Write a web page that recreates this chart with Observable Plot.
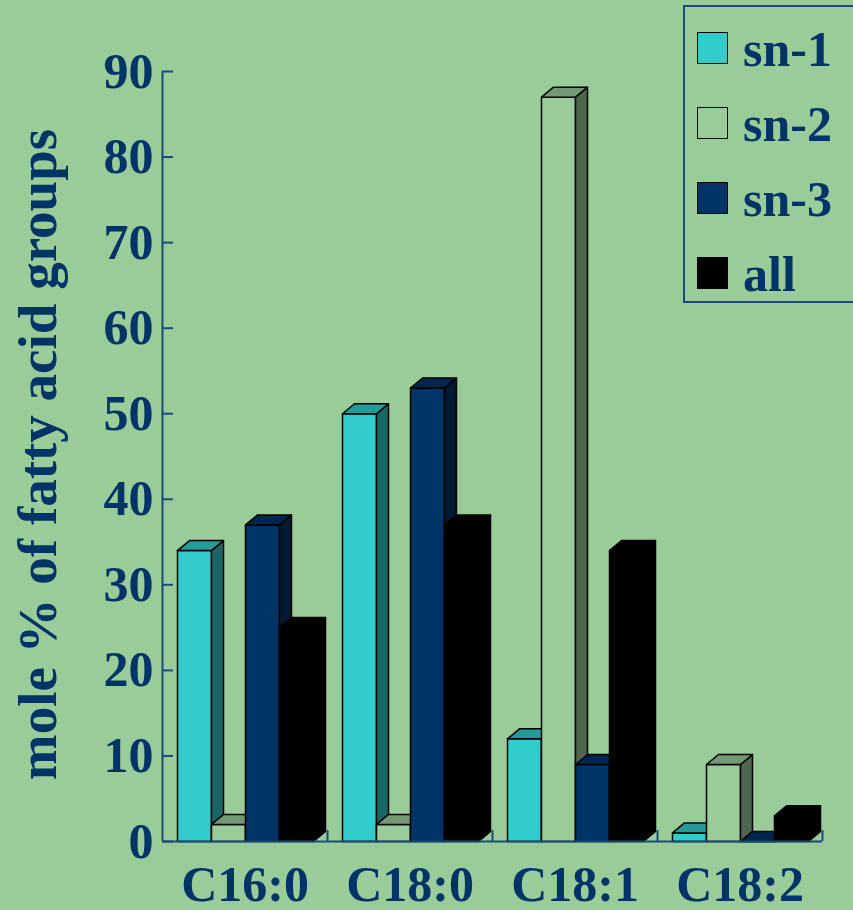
<!DOCTYPE html>
<html>
<head>
<meta charset="utf-8">
<script src="https://cdn.jsdelivr.net/npm/d3@7"></script>
<script src="https://cdn.jsdelivr.net/npm/@observablehq/plot@0.6"></script>
<style>
  html, body { margin: 0; padding: 0; background: #99cc99; overflow: hidden; }
  #wrap { position: relative; width: 853px; height: 910px; }
  #legend {
    position: absolute; left: 683px; top: 5px; width: 180px; height: 298px;
    border: 2px solid #1b4b7b; box-sizing: border-box;
    font-family: "Liberation Serif", "Times New Roman", serif; font-weight: bold;
    color: #003366; font-size: 50px;
  }
  .item { position: absolute; left: 12px; height: 60px; }
  .sw { position: absolute; left: 0; width: 29px; height: 30px; border: 1.5px solid #000; }
  .lab { position: absolute; left: 46px; top: -13px; line-height: 60px; white-space: nowrap; }
</style>
</head>
<body>
<div id="wrap"><div id="legend"></div></div>
<script>
// Fatty acid composition (mole %) by glycerol position
const groups = ["C16:0", "C18:0", "C18:1", "C18:2"];
const seriesNames = ["sn-1", "sn-2", "sn-3", "all"];
const sn1 = [34, 50, 12, 1];
const sn2 = [2, 2, 87, 9];
const sn3 = [37, 53, 9, 0];
const allPositions = [25, 37, 34, 3];
const yTicks = [0, 10, 20, 30, 40, 50, 60, 70, 80, 90];

// front / top / side shades for each series
const faceColors = [
  {front: "#33cccc", top: "#269999", side: "#1a6666"},
  {front: "#99cc99", top: "#739973", side: "#4d664d"},
  {front: "#003366", top: "#00264d", side: "#001a33"},
  {front: "#000000", top: "#000000", side: "#000000"}
];
const seriesValues = [sn1, sn2, sn3, allPositions];

const textColor = "#003366";
const axisColor = "#1b4b7b";
const width = 853, height = 910;
const margin = {top: 71, right: 31, bottom: 69, left: 162};
const plotW = width - margin.left - margin.right;
const plotH = height - margin.top - margin.bottom;
const yMax = 90;

// bar geometry in data units (x: one unit per fatty acid group)
const barW = 34 / (plotW / groups.length);
const lead = 15 / (plotW / groups.length);
const depthX = 12 / (plotW / groups.length);
const depthY = 10 / (plotH / yMax);

// each bar is a front rectangle plus a side and a top parallelogram
const vertices = [];
seriesValues.forEach((vals, s) => {
  vals.forEach((v, g) => {
    const x0 = g + lead + s * barW, x1 = x0 + barW;
    const c = faceColors[s];
    const faces = [
      ["front", c.front, [[x0, 0], [x1, 0], [x1, v], [x0, v]]],
      ["side", c.side, [[x1, 0], [x1 + depthX, depthY], [x1 + depthX, v + depthY], [x1, v]]],
      ["top", c.top, [[x0, v], [x0 + depthX, v + depthY], [x1 + depthX, v + depthY], [x1, v]]]
    ];
    for (const [face, fill, pts] of faces) {
      const id = `${seriesNames[s]}|${groups[g]}|${face}`;
      for (const [x, y] of pts) vertices.push({id, fill, x, y});
    }
  });
});

const chart = Plot.plot({
  width, height,
  marginTop: margin.top, marginRight: margin.right,
  marginBottom: margin.bottom, marginLeft: margin.left,
  x: {domain: [0, groups.length]},
  y: {domain: [0, yMax]},
  color: {type: "identity"},
  style: {background: "#99cc99", color: textColor, fontFamily: "Liberation Serif, Times New Roman, serif"},
  marks: [
    Plot.ruleX([0], {stroke: axisColor, strokeWidth: 2}),
    Plot.ruleY(yTicks, {stroke: axisColor, strokeWidth: 2, insetRight: plotW - 11}),
    Plot.line(vertices, {
      x: "x", y: "y", z: "id", fill: "fill",
      stroke: "#000", strokeWidth: 1.5, curve: "linear-closed"
    }),
    Plot.ruleY([0], {stroke: axisColor, strokeWidth: 2}),
    Plot.ruleX(d3.range(1, groups.length + 1), {stroke: axisColor, strokeWidth: 2, insetTop: plotH - 11}),
    Plot.axisY({
      ticks: yTicks, tickSize: 0, tickPadding: 9, label: null,
      fontSize: 50, fontWeight: "bold", fill: textColor
    }),
    Plot.axisX({
      ticks: groups.map((_, i) => i + 0.5),
      tickFormat: (d) => groups[Math.floor(d)],
      tickSize: 0, tickPadding: 24, label: null,
      fontSize: 50, fontWeight: "bold", fill: textColor
    }),
    Plot.text(["mole % of fatty acid groups"], {
      text: (d) => d, frameAnchor: "left", dx: -107, dy: -2, rotate: -90,
      textAnchor: "middle", lineAnchor: "bottom",
      fontSize: 55, fontWeight: "bold", fill: textColor
    })
  ]
});
document.getElementById("wrap").prepend(chart);

// legend
const legend = d3.select("#legend");
seriesNames.forEach((name, i) => {
  const item = legend.append("div").attr("class", "item").style("top", `${25 + i * 75}px`);
  item.append("div").attr("class", "sw").style("background", faceColors[i].front);
  item.append("div").attr("class", "lab").text(name);
});
</script>
</body>
</html>
